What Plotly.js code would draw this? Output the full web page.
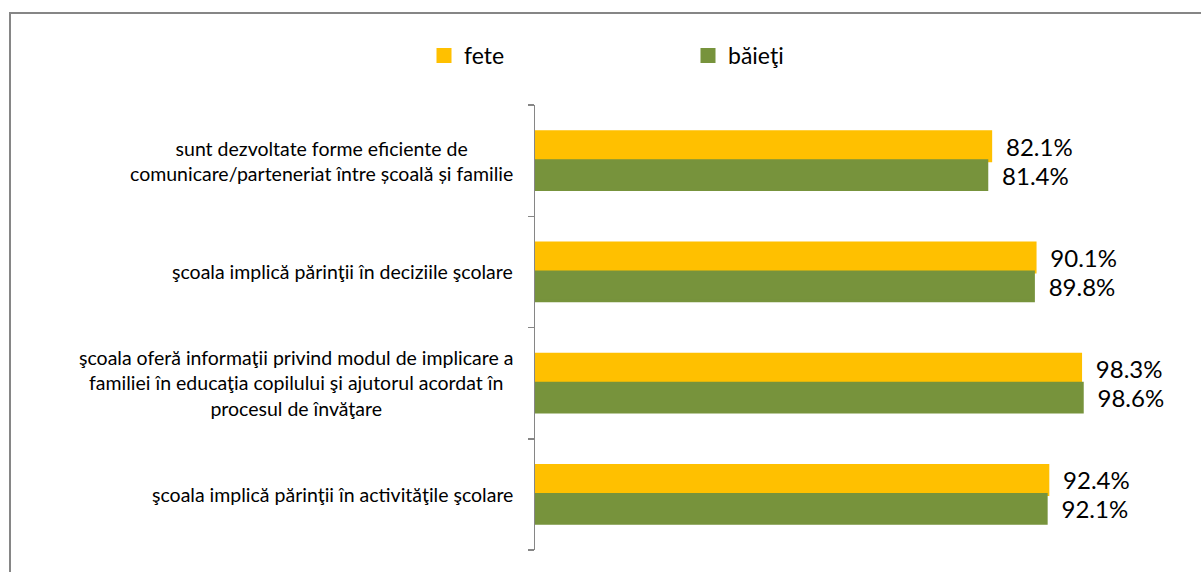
<!DOCTYPE html>
<html>
<head>
<meta charset="utf-8">
<script src="https://cdn.plot.ly/plotly-3.0.1.min.js"></script>
<style>
html,body{margin:0;padding:0;background:#fff;}
#wrap{position:relative;width:1201px;height:572px;overflow:hidden;}
#chart{position:absolute;left:0;top:0;width:1201px;height:572px;}
#frame{position:absolute;left:9px;top:12px;width:1300px;height:700px;border-left:2px solid #868686;border-top:2px solid #868686;pointer-events:none;}
</style>
</head>
<body>
<div id="wrap"><div id="chart"></div><div id="frame"></div></div>
<script>
const categories = [
  "sunt dezvoltate forme eficiente de<br>comunicare/parteneriat între școală și familie",
  "şcoala implică părinţii în deciziile şcolare",
  "şcoala oferă informaţii privind modul de implicare a<br>familiei în educaţia copilului şi ajutorul acordat în<br>procesul de învăţare",
  "şcoala implică părinţii în activităţile şcolare"
];
const seriesNames = ["fete", "băieţi"];
const fete = [82.1, 90.1, 98.3, 92.4];
const baieti = [81.4, 89.8, 98.6, 92.1];
const colors = ["#FFC000", "#77933C"];

const FONT = "Lato, 'Open Sans', sans-serif";

function barTrace(name, vals, color) {
  return {
    type: "bar",
    orientation: "h",
    name: name,
    y: categories,
    x: vals,
    marker: {color: color, line: {color: color, width: 3}},
    text: vals.map(v => "\u00a0\u00a0" + v.toFixed(1) + "%"),
    textposition: "outside",
    textfont: {family: FONT, size: 24, color: "#000"},
    constraintext: "none",
    cliponaxis: false,
    hoverinfo: "skip"
  };
}

const data = [
  barTrace(seriesNames[0], fete, colors[0]),
  barTrace(seriesNames[1], baieti, colors[1])
];

const annotations = categories.map(c => ({
  xref: "paper", yref: "y",
  x: 0, y: c,
  xanchor: "right", yanchor: "middle",
  xshift: -20,
  align: "center",
  text: c,
  showarrow: false,
  font: {family: FONT, size: 19.5, color: "#000"}
}));

// boundary ticks between categories (including both ends)
const boundaryTicks = categories.map((_, i) => i - 0.5).concat([categories.length - 0.5]);

const layout = {
  width: 1201, height: 572,
  margin: {l: 535, r: 0, t: 105, b: 22, pad: 0},
  paper_bgcolor: "#fff",
  plot_bgcolor: "#fff",
  barmode: "group",
  bargap: 0.479,
  bargroupgap: 0,
  showlegend: true,
  legend: {
    orientation: "h",
    xref: "container", yref: "container",
    x: 424 / 1201, y: 1 - 34 / 572,
    xanchor: "left", yanchor: "top",
    entrywidth: 219, entrywidthmode: "pixels",
    font: {family: FONT, size: 23, color: "#000"},
    traceorder: "normal"
  },
  xaxis: {
    range: [0, 120],
    showgrid: false, zeroline: false, showline: false,
    showticklabels: false, ticks: ""
  },
  yaxis: {
    type: "category",
    range: [categories.length - 0.5, -0.5],
    showgrid: false, zeroline: false,
    showline: true, linecolor: "#868686", linewidth: 1.5,
    ticks: "",
    showticklabels: false
  },
  yaxis2: {
    type: "linear",
    overlaying: "y",
    side: "left",
    range: [categories.length - 0.5, -0.5],
    tickmode: "array",
    tickvals: boundaryTicks,
    showgrid: false, zeroline: false, showline: false,
    ticks: "outside", ticklen: 6, tickcolor: "#868686", tickwidth: 1.5,
    showticklabels: false
  },
  annotations: annotations,
  font: {family: FONT}
};

// an empty trace to activate the tick-only overlay axis
data.push({type: "scatter", x: [], y: [], yaxis: "y2", showlegend: false, hoverinfo: "skip"});

Plotly.newPlot("chart", data, layout, {displayModeBar: false, staticPlot: true});
</script>
</body>
</html>
